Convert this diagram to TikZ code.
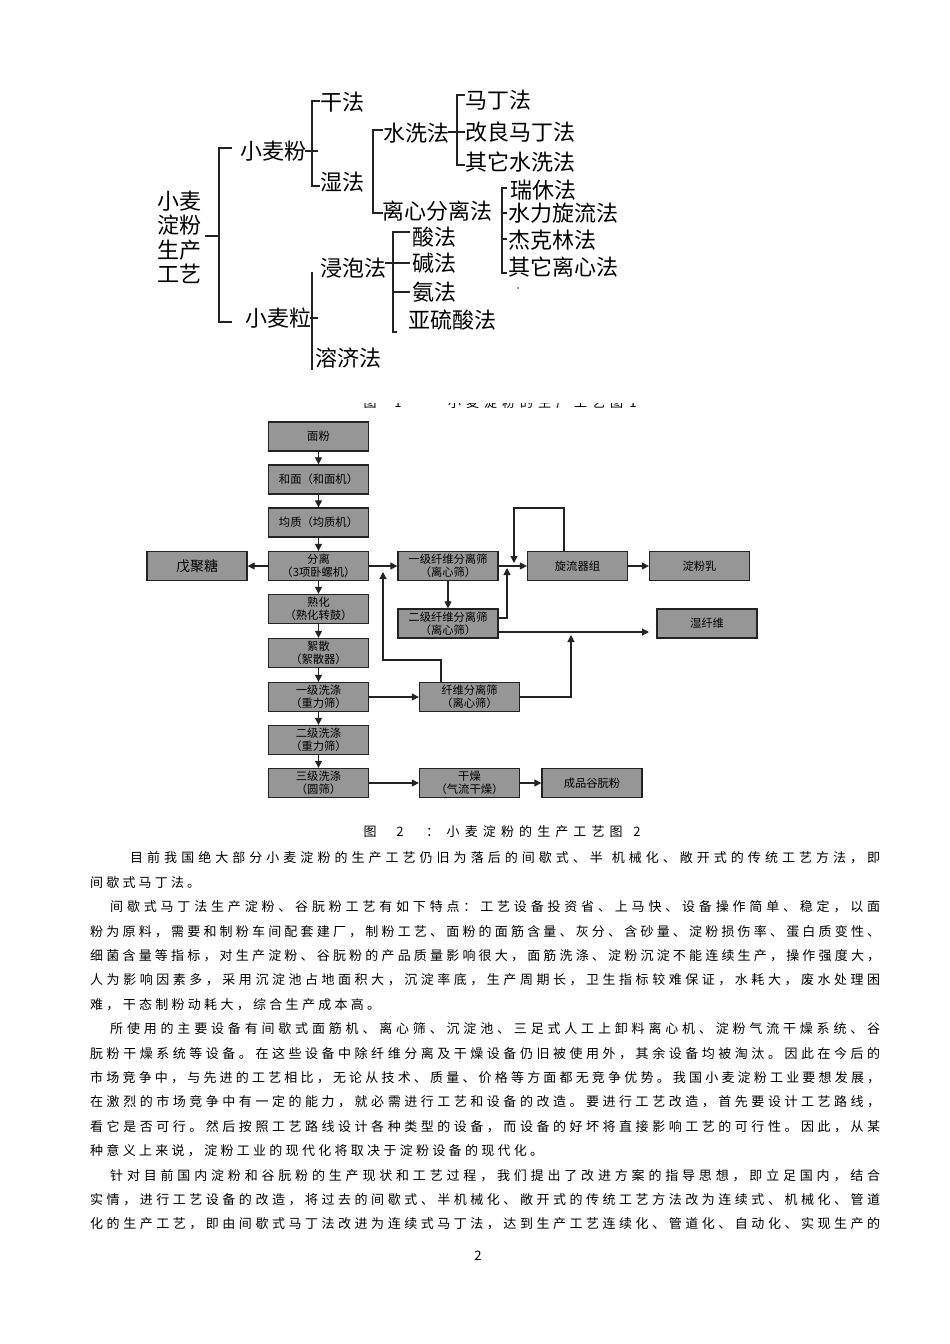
\documentclass[tikz,border=0pt]{standalone}
\usepackage{fontspec}
\setmainfont{Noto Sans CJK SC}
\usetikzlibrary{arrows.meta}
\newcount\mycc
\mycc="3000
\loop \XeTeXcharclass\mycc=1 \advance\mycc by 1 \ifnum\mycc<"A000 \repeat
\mycc="FF00
\loop \XeTeXcharclass\mycc=1 \advance\mycc by 1 \ifnum\mycc<"FFF0 \repeat
\XeTeXinterchartoks 1 1 = {\hskip 0pt plus 1pt\relax}
\newcommand\jl[2]{\makebox[#1pt][s]{\XeTeXinterchartokenstate=1 #2}}
\definecolor{ink}{RGB}{35,35,35}
\definecolor{boxgray}{RGB}{150,150,150}
\tikzset{
  tree/.style={anchor=west, inner sep=0pt, font=\fontsize{22}{24}\selectfont},
  tl/.style={line width=1.3pt, draw=ink},
  fbox/.style={draw=ink, line width=1.3pt, fill=boxgray, minimum width=100pt, minimum height=29pt,
    inner sep=0pt, align=center, font=\fontsize{11.3}{13}\selectfont},
  arr/.style={draw=ink, line width=1.2pt, -{Triangle[length=7pt,width=7pt]}},
  body/.style={anchor=west, inner sep=0pt, font=\fontsize{13}{15}\selectfont},
  captxt/.style={inner sep=0pt, font=\fontsize{13}{15}\selectfont},
}
\begin{document}
\begin{tikzpicture}[x=1pt,y=-1pt]
\fill[white] (0,0) rectangle (950,1344);
\useasboundingbox (0,0) rectangle (950,1344);

% ---------- tree ----------
\node[tree] (t1) at (157,201) {小麦};
\node[tree] (t2) at (157,225) {淀粉};
\node[tree] (t3) at (157,250) {生产};
\node[tree] (t4) at (157,274) {工艺};
\node[tree] (xmf) at (240,151) {小麦粉};
\node[tree] (xml) at (245,318) {小麦粒};
\node[tree] (gf) at (320,102) {干法};
\node[tree] (sf) at (320,182) {湿法};
\node[tree] (sxf) at (383,133) {水洗法};
\node[tree] (lx) at (382,211) {离心分离法};
\node[tree] (md) at (465,100) {马丁法};
\node[tree] (glmd) at (465,132) {改良马丁法};
\node[tree] (qtsx) at (465,162) {其它水洗法};
\node[tree] (rx) at (510,190) {瑞休法};
\node[tree] (slxl) at (508,213) {水力旋流法};
\node[tree] (jkl) at (508,240) {杰克林法};
\node[tree] (qtlx) at (508,267) {其它离心法};
\node[tree] (jp) at (320,268) {浸泡法};
\node[tree] (rj) at (315,358) {溶济法};
\node[tree] (suan) at (412,237) {酸法};
\node[tree] (jian) at (412,263) {碱法};
\node[tree] (an) at (412,292) {氨法};
\node[tree] (yls) at (408,320) {亚硫酸法};
\fill[ink] (518,288) circle (0.8);

\draw[tl] (205,236) -- (219,236);
\draw[tl] (232,148) -- (219,148) -- (219,322) -- (232,322);
\draw[tl] (320,101) -- (312,101) -- (312,186) -- (320,186);
\draw[tl] (305,151) -- (318,151);
\draw[tl] (383,130) -- (373,130) -- (373,213) -- (383,213);
\draw[tl] (465,95) -- (457,95) -- (457,165) -- (465,165);
\draw[tl] (448,132) -- (465,132);
\draw[tl] (507,188) -- (502,188) -- (502,273) -- (507,273);
\draw[tl] (502,213) -- (507,213);
\draw[tl] (502,239) -- (507,239);
\draw[tl] (312,272) -- (312,370);
\draw[tl] (310,318) -- (318,318);
\draw[tl] (410,232) -- (393,232) -- (393,332) -- (397,332);
\draw[tl] (385,263) -- (410,263);
\draw[tl] (393,292) -- (410,292);

% ---------- caption 1 (cut off) ----------
\begin{scope}
\clip (300,403.5) rectangle (700,420);
\node[captxt] (c1a) at (370,403) {图};
\node[captxt] (c1b) at (398,403) {1};
\node[captxt,anchor=west] (c1c) at (448,403) {\jl{175}{小麦淀粉的生产工艺图}};
\node[captxt] (c1d) at (633,403) {1};
\end{scope}

% ---------- flowchart ----------
\node[fbox] (mf) at (318.5,436.5) {面粉};
\node[fbox] (hm) at (318.5,479.5) {和面（和面机）};
\node[fbox] (jz) at (318.5,522.5) {均质（均质机）};
\node[fbox] (fl) at (318.5,566) {分离\\（3项卧螺机）};
\node[fbox] (sh) at (318.5,609) {熟化\\（熟化转鼓）};
\node[fbox] (xs) at (318.5,653) {絮散\\（絮散器）};
\node[fbox] (x1) at (318.5,697) {一级洗涤\\（重力筛）};
\node[fbox] (x2) at (318.5,740) {二级洗涤\\（重力筛）};
\node[fbox] (x3) at (318.5,783) {三级洗涤\\（圆筛）};
\node[fbox,font=\fontsize{14}{16}\selectfont] (wj) at (197,566) {戊聚糖};
\node[fbox] (f1) at (448,566) {一级纤维分离筛\\（离心筛）};
\node[fbox] (f2) at (448,623.5) {二级纤维分离筛\\（离心筛）};
\node[fbox] (xl) at (577.5,566) {旋流器组};
\node[fbox] (dfr) at (699.5,566) {淀粉乳};
\node[fbox] (sxw) at (707,623.5) {湿纤维};
\node[fbox] (fs) at (469.5,697) {纤维分离筛\\（离心筛）};
\node[fbox] (gz) at (469.5,783) {干燥\\（气流干燥）};
\node[fbox] (cp) at (592,783) {成品谷朊粉};

\draw[arr] (mf) -- (hm);
\draw[arr] (hm) -- (jz);
\draw[arr] (jz) -- (fl);
\draw[arr] (fl) -- (sh);
\draw[arr] (sh) -- (xs);
\draw[arr] (xs) -- (x1);
\draw[arr] (x1) -- (x2);
\draw[arr] (x2) -- (x3);
\draw[arr] (fl) -- (wj);
\draw[arr] (fl) -- (f1);
\draw[arr] (f1) -- (xl);
\draw[arr] (xl) -- (dfr);
\draw[arr] (f1) -- (f2);
\draw[arr] (x1) -- (fs);
\draw[arr] (x3) -- (gz);
\draw[arr] (gz) -- (cp);

\coordinate (lp) at (514,508);
\coordinate (lpend) at (514,563);
\draw[arr] ([xshift=-13.5pt]xl.north) |- (lp) -- (lpend);
\coordinate (f2up) at (507,568);
\draw[arr] ([yshift=5.5pt]f2.east) -| (f2up);
\coordinate (swend) at (649,632);
\draw[arr] ([yshift=-8.5pt]f2.east) -- (swend);
\coordinate (fsup) at (571,635);
\draw[arr] (fs.east) -| (fsup);
\coordinate (fbk) at (383,660);
\coordinate (fbend) at (383,572);
\draw[arr] ([xshift=-28.5pt]fs.north) |- (fbk) -- (fbend);

% ---------- caption 2 ----------
\node[captxt] (c2a) at (370,832) {图};
\node[captxt] (c2b) at (400,832) {2};
\node[captxt,anchor=west] (c2c) at (426,832) {：};
\node[captxt,anchor=west] (c2d) at (446.5,832) {\jl{176}{小麦淀粉的生产工艺图}};
\node[captxt] (c2e) at (637,832) {2};

% ---------- body text ----------
\node[body] (l0) at (130,858) {\jl{750}{目前我国绝大部分小麦淀粉的生产工艺仍旧为落后的间歇式、半 机械化、敞开式的传统工艺方法，即}};
\node[body] (l1) at (90,882.4) {\jl{110}{间歇式马丁法。}};
\node[body] (l2) at (110,906.8) {\jl{770}{间歇式马丁法生产淀粉、谷朊粉工艺有如下特点：工艺设备投资省、上马快、设备操作简单、稳定，以面}};
\node[body] (l3) at (90,931.2) {\jl{790}{粉为原料，需要和制粉车间配套建厂，制粉工艺、面粉的面筋含量、灰分、含砂量、淀粉损伤率、蛋白质变性、}};
\node[body] (l4) at (90,955.6) {\jl{790}{细菌含量等指标，对生产淀粉、谷朊粉的产品质量影响很大，面筋洗涤、淀粉沉淀不能连续生产，操作强度大，}};
\node[body] (l5) at (90,980) {\jl{790}{人为影响因素多，采用沉淀池占地面积大，沉淀率底，生产周期长，卫生指标较难保证，水耗大，废水处理困}};
\node[body] (l6) at (90,1004.4) {\jl{290}{难，干态制粉动耗大，综合生产成本高。}};
\node[body] (l7) at (110,1028.8) {\jl{770}{所使用的主要设备有间歇式面筋机、离心筛、沉淀池、三足式人工上卸料离心机、淀粉气流干燥系统、谷}};
\node[body] (l8) at (90,1053.2) {\jl{790}{朊粉干燥系统等设备。在这些设备中除纤维分离及干燥设备仍旧被使用外，其余设备均被淘汰。因此在今后的}};
\node[body] (l9) at (90,1077.6) {\jl{790}{市场竞争中，与先进的工艺相比，无论从技术、质量、价格等方面都无竞争优势。我国小麦淀粉工业要想发展，}};
\node[body] (l10) at (90,1102) {\jl{790}{在激烈的市场竞争中有一定的能力，就必需进行工艺和设备的改造。要进行工艺改造，首先要设计工艺路线，}};
\node[body] (l11) at (90,1126.4) {\jl{790}{看它是否可行。然后按照工艺路线设计各种类型的设备，而设备的好坏将直接影响工艺的可行性。因此，从某}};
\node[body] (l12) at (90,1150.8) {\jl{453}{种意义上来说，淀粉工业的现代化将取决于淀粉设备的现代化。}};
\node[body] (l13) at (110,1175.2) {\jl{770}{针对目前国内淀粉和谷朊粉的生产现状和工艺过程，我们提出了改进方案的指导思想，即立足国内，结合}};
\node[body] (l14) at (90,1199.6) {\jl{790}{实情，进行工艺设备的改造，将过去的间歇式、半机械化、敞开式的传统工艺方法改为连续式、机械化、管道}};
\node[body] (l15) at (90,1224) {\jl{790}{化的生产工艺，即由间歇式马丁法改进为连续式马丁法，达到生产工艺连续化、管道化、自动化、实现生产的}};
\node[captxt] (pg) at (478,1256) {2};
\end{tikzpicture}
\end{document}
